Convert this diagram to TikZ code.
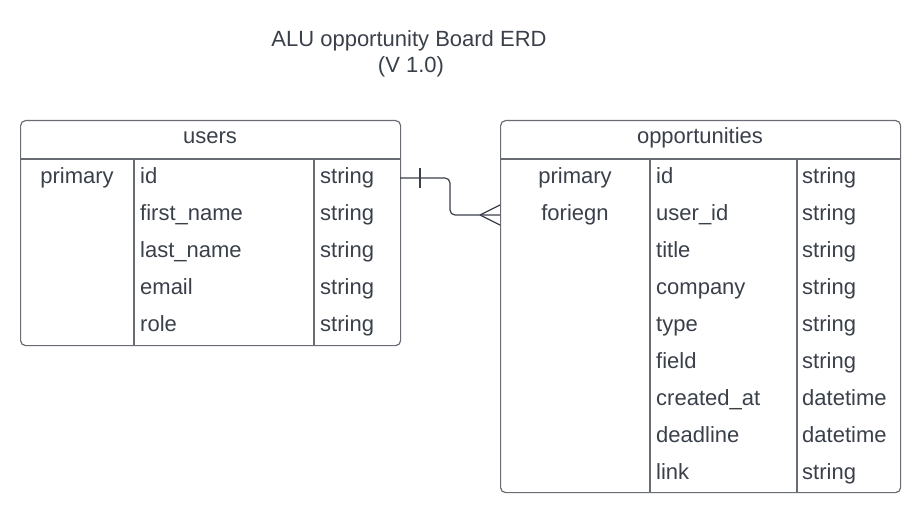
\documentclass[tikz,border=0pt]{standalone}
\usepackage{fontspec}
\setmainfont{Liberation Sans}
\usetikzlibrary{positioning}

\definecolor{erdtext}{RGB}{58,64,74}
\definecolor{erdline}{RGB}{105,108,114}

\tikzset{
    cell/.style={anchor=base west, inner sep=0pt, text=erdtext, font=\fontsize{22}{26}\selectfont},
    keycell/.style={cell, anchor=base},
    tablebox/.style={draw=erdline, line width=1.2pt, rounded corners=5pt, anchor=north west, inner sep=0pt},
    rule/.style={draw=erdline, line width=1.2pt},
    link/.style={draw=erdtext, line width=1.2pt}
}

\begin{document}
\begin{tikzpicture}[x=1pt, y=-1pt]
        \useasboundingbox (0,0) rectangle (920,513);

        \node[keycell] (title) at (409,47) {ALU opportunity Board ERD};
        \node[keycell] (version) at (411,73) {(V 1.0)};

        % users table
        \node[tablebox, minimum width=380pt, minimum height=225pt] (users) at (20,120) {};
        \node[keycell] (users-name) at (210,144) {users};
        \draw[rule] (20,159) -- (400,159);
        \draw[rule] (134,159) -- (134,345);
        \draw[rule] (314,159) -- (314,345);
        \node[keycell] (users-pk) at (77,183) {primary};
        \foreach \col/\kind [count=\i] in {id/string, first\_name/string, last\_name/string, email/string, role/string}
        {
            \node[cell] (users-col-\i) at (140,146+37*\i) {\col};
            \node[cell] (users-type-\i) at (320,146+37*\i) {\kind};
        }

        % opportunities table
        \node[tablebox, minimum width=400pt, minimum height=372pt] (opps) at (500,120) {};
        \node[keycell] (opps-name) at (700,144) {opportunities};
        \draw[rule] (500,159) -- (900,159);
        \draw[rule] (650,159) -- (650,492);
        \draw[rule] (797,159) -- (797,492);
        \node[keycell] (opps-pk) at (575,183) {primary};
        \node[keycell] (opps-fk) at (575,220) {foriegn};
        \foreach \col/\kind [count=\i] in {id/string, user\_id/string, title/string, company/string, type/string, field/string, created\_at/datetime, deadline/datetime, link/string}
        {
            \node[cell] (opps-col-\i) at (656,146+37*\i) {\col};
            \node[cell] (opps-type-\i) at (802,146+37*\i) {\kind};
        }

        % one user -- many opportunities
        \coordinate (one-end) at (400,178);
        \coordinate (many-end) at (500,215);
        \coordinate (crow) at (480,215);
        \draw[link, rounded corners=5pt] (one-end) -- (450,178) -- (450,215) -- (many-end);
        \draw[link] (420,168) -- (420,188);
        \draw[link] (crow) -- (500,205) (crow) -- (500,225);
    \end{tikzpicture}
\end{document}
